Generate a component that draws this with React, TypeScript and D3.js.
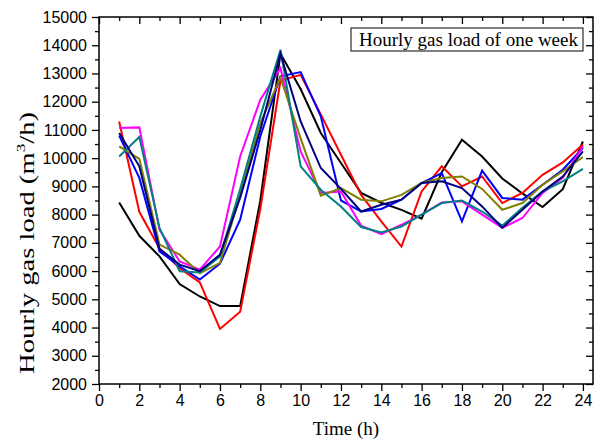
import { useEffect, useRef } from "react";
import * as d3 from "d3";

const hours = [1, 2, 3, 4, 5, 6, 7, 8, 9, 10, 11, 12, 13, 14, 15, 16, 17, 18, 19, 20, 21, 22, 23, 24];

const blackLoad = [8430, 7250, 6520, 5540, 5100, 4760, 4760, 8500, 13700, 12450, 10890, 9830, 8770, 8420, 8170, 7860, 9500, 10650, 10060, 9280, 8750, 8270, 8900, 10590];
const redLoad = [11300, 8100, 6800, 6100, 5600, 3950, 4560, 8200, 12750, 12950, 11550, 10120, 8700, 7760, 6870, 8820, 9710, 9000, 9350, 8410, 8770, 9410, 9850, 10480];
const blueLoad = [10800, 9300, 6700, 6170, 5700, 6260, 7820, 10770, 12900, 13050, 11480, 8500, 8110, 8200, 8530, 9120, 9470, 7760, 9560, 8590, 8530, 9060, 9590, 10360];
const magentaLoad = [11070, 11090, 7470, 6340, 6050, 6870, 10060, 12070, 13190, 10240, 8770, 8820, 7610, 7310, 7640, 8000, 8430, 8470, 8000, 7530, 7880, 8770, 9300, 10420];
const oliveLoad = [10420, 9970, 6940, 6580, 5920, 6290, 8700, 11240, 12860, 10700, 8670, 8940, 8530, 8470, 8700, 9120, 9300, 9350, 8910, 8170, 8410, 9060, 9530, 10040];
const tealLoad = [10060, 10750, 7530, 5990, 5950, 6520, 8900, 11480, 13840, 9710, 8880, 8290, 7560, 7370, 7580, 8000, 8410, 8500, 8110, 7610, 8240, 8820, 9180, 9620];
const navyLoad = [10890, 9710, 6790, 6230, 6000, 6580, 8600, 11000, 13700, 11300, 9650, 8910, 8110, 8350, 8530, 9120, 9180, 8940, 8290, 7530, 8170, 8820, 9350, 10240];

const series = [
  { color: "#000000", values: blackLoad },
  { color: "#ff0000", values: redLoad },
  { color: "#0000ff", values: blueLoad },
  { color: "#ff00ff", values: magentaLoad },
  { color: "#808000", values: oliveLoad },
  { color: "#008080", values: tealLoad },
  { color: "#000080", values: navyLoad },
];

const xMajor = [0, 2, 4, 6, 8, 10, 12, 14, 16, 18, 20, 22, 24];
const xMinor = [1, 3, 5, 7, 9, 11, 13, 15, 17, 19, 21, 23];
const yMajor = [2000, 3000, 4000, 5000, 6000, 7000, 8000, 9000, 10000, 11000, 12000, 13000, 14000, 15000];
const yMinor = [2500, 3500, 4500, 5500, 6500, 7500, 8500, 9500, 10500, 11500, 12500, 13500, 14500];

const W = 597;
const H = 441;
const margin = { left: 99, right: 4, top: 17, bottom: 57 };

const App = () => {
  const ref = useRef<SVGSVGElement>(null);

  useEffect(() => {
    const svg = d3.select(ref.current);
    svg.selectAll("*").remove();

    const x = d3.scaleLinear().domain([0, 24.5]).range([margin.left, W - margin.right]);
    const y = d3.scaleLinear().domain([2000, 15000]).range([H - margin.bottom, margin.top]);

    const styleAxis = (g: any, labels: boolean) => {
      g.select(".domain").remove();
      g.selectAll("line").attr("stroke", "#000").attr("stroke-width", 1.3);
      if (labels) {
        g.selectAll("text")
          .attr("font-family", "'Liberation Sans', Arial, sans-serif")
          .attr("font-size", 16)
          .attr("fill", "#000");
      }
    };

    // bottom: outward ticks with labels
    svg.append("g")
      .attr("transform", `translate(0,${y(2000)})`)
      .call(d3.axisBottom(x).tickValues(xMajor).tickSize(7).tickPadding(4).tickFormat(d3.format("d")))
      .call((g: any) => styleAxis(g, true));
    svg.append("g")
      .attr("transform", `translate(0,${y(2000)})`)
      .call(d3.axisBottom(x).tickValues(xMinor).tickSize(4).tickFormat(() => ""))
      .call((g: any) => styleAxis(g, false));

    // top: inward ticks
    svg.append("g")
      .attr("transform", `translate(0,${y(15000)})`)
      .call(d3.axisTop(x).tickValues(xMajor).tickSize(-7).tickFormat(() => ""))
      .call((g: any) => styleAxis(g, false));
    svg.append("g")
      .attr("transform", `translate(0,${y(15000)})`)
      .call(d3.axisTop(x).tickValues(xMinor).tickSize(-4).tickFormat(() => ""))
      .call((g: any) => styleAxis(g, false));

    // left: outward ticks with labels
    svg.append("g")
      .attr("transform", `translate(${x(0)},0)`)
      .call(d3.axisLeft(y).tickValues(yMajor).tickSize(7).tickPadding(5).tickFormat(d3.format("d")))
      .call((g: any) => styleAxis(g, true));
    svg.append("g")
      .attr("transform", `translate(${x(0)},0)`)
      .call(d3.axisLeft(y).tickValues(yMinor).tickSize(4).tickFormat(() => ""))
      .call((g: any) => styleAxis(g, false));

    // right: inward ticks
    svg.append("g")
      .attr("transform", `translate(${x(24.5)},0)`)
      .call(d3.axisRight(y).tickValues(yMajor).tickSize(-7).tickFormat(() => ""))
      .call((g: any) => styleAxis(g, false));
    svg.append("g")
      .attr("transform", `translate(${x(24.5)},0)`)
      .call(d3.axisRight(y).tickValues(yMinor).tickSize(-4).tickFormat(() => ""))
      .call((g: any) => styleAxis(g, false));

    // frame
    svg.append("rect")
      .attr("x", x(0))
      .attr("y", y(15000))
      .attr("width", x(24.5) - x(0))
      .attr("height", y(2000) - y(15000))
      .attr("fill", "none")
      .attr("stroke", "#000")
      .attr("stroke-width", 1.5);

    const line = d3.line<number>()
      .x((_, i) => x(hours[i]))
      .y((d) => y(d));

    svg.append("g")
      .selectAll("path")
      .data(series)
      .join("path")
      .attr("fill", "none")
      .attr("stroke", (d) => d.color)
      .attr("stroke-width", 2)
      .attr("stroke-linejoin", "miter")
      .attr("d", (d) => line(d.values));

    // legend box
    svg.append("rect")
      .attr("x", 351)
      .attr("y", 28)
      .attr("width", 232)
      .attr("height", 23)
      .attr("fill", "#fff")
      .attr("stroke", "#000")
      .attr("stroke-width", 1);
    svg.append("text")
      .attr("x", 359)
      .attr("y", 46)
      .attr("font-family", "'Liberation Serif', 'Times New Roman', serif")
      .attr("font-size", 19)
      .text("Hourly gas load of one week");

    // axis titles
    svg.append("text")
      .attr("x", (x(0) + x(24.5)) / 2)
      .attr("y", 435)
      .attr("text-anchor", "middle")
      .attr("font-family", "'Liberation Serif', 'Times New Roman', serif")
      .attr("font-size", 19)
      .text("Time (h)");

    const yt = svg.append("text")
      .attr("transform", "translate(34,243) rotate(-90)")
      .attr("text-anchor", "middle")
      .attr("font-family", "'Liberation Serif', 'Times New Roman', serif")
      .attr("font-size", 20)
      .attr("textLength", 262)
      .attr("lengthAdjust", "spacingAndGlyphs");
    yt.append("tspan").text("Hourly gas load (m");
    yt.append("tspan").attr("font-size", 12).attr("dy", -9).text("3");
    yt.append("tspan").attr("dy", 9).text("/h)");
  }, []);

  return (
    <svg
      ref={ref}
      width={W}
      height={H}
      style={{ position: "absolute", left: 0, top: 0, background: "#fff" }}
    />
  );
};

export default App;
